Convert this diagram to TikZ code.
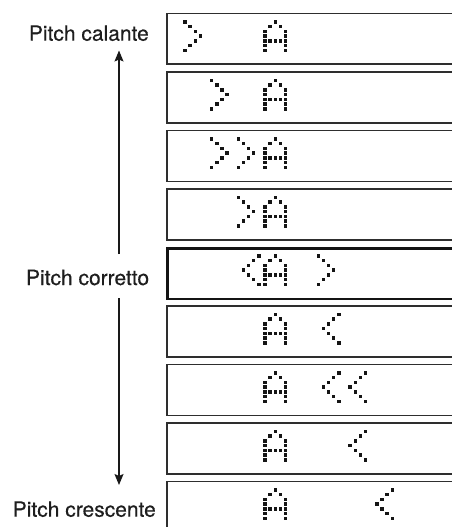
\documentclass[tikz,border=0pt]{standalone}
\usepackage{fontspec}
\setmainfont{TeX Gyre Heros}
\newfontface\labfont{TeX Gyre Heros}[FakeBold=0.35]
\usetikzlibrary{arrows.meta}
\definecolor{dotc}{HTML}{151515}
\definecolor{txtc}{HTML}{1E1E1E}
\definecolor{boxc}{HTML}{2E2E2E}
\tikzset{
  lcd/.style={draw=boxc, line width=1.7pt, rectangle, anchor=north west,
    minimum width=330pt, minimum height=50.8pt, inner sep=0pt},
  lcdbold/.style={lcd, draw=black!92, line width=2.8pt},
  lab/.style={font=\labfont\fontsize{21}{25}\selectfont, text=txtc, inner sep=0pt, anchor=base east},
  pitcharrow/.style={line width=1.3pt, draw=black!90, -{Stealth[length=11pt,width=9pt,inset=2pt]}},
  pics/chA/.style={code={
    \foreach \c/\r in {3/1,2/2,4/2,1/3,5/3,1/4,5/4,1/5,2/5,3/5,4/5,5/5,1/6,5/6,1/7,5/7}
      \fill[dotc] ({(\c-1)*5.15-1.7},{(\r-1)*4.75-1.7}) rectangle ++(3.4,3.4);}},
  pics/chGt/.style={code={
    \foreach \c/\r in {1/1,2/2,3/3,4/4,3/5,2/6,1/7}
      \fill[dotc] ({(\c-1)*5.15-1.7},{(\r-1)*4.75-1.7}) rectangle ++(3.4,3.4);}},
  pics/chLt/.style={code={
    \foreach \c/\r in {5/1,4/2,3/3,2/4,3/5,4/6,5/7}
      \fill[dotc] ({(\c-1)*5.15-1.7},{(\r-1)*4.75-1.7}) rectangle ++(3.4,3.4);}},
}
\begin{document}
\begin{tikzpicture}[x=1pt,y=-1pt]
\useasboundingbox (0,0) rectangle (452,527);
\clip (0,0) rectangle (452,527);
% boxes
\node[lcd] (b1) at (166,12.7) {};
\node[lcd] (b2) at (166,71.2) {};
\node[lcd] (b3) at (166,129.7) {};
\node[lcd] (b4) at (166,188.2) {};
\node[lcdbold] (b5) at (166,246.7) {};
\node[lcd] (b6) at (166,305.2) {};
\node[lcd] (b7) at (166,363.7) {};
\node[lcd] (b8) at (166,422.2) {};
\node[lcd] (b9) at (166,480.7) {};
% box 1
\pic at (185,21.9) {chGt};
\pic at (265,21.9) {chA};
% box 2
\pic at (211.67,80.4) {chGt};
\pic at (265,80.4) {chA};
% box 3
\pic at (211.67,138.9) {chGt};
\pic at (238.33,138.9) {chGt};
\pic at (265,138.9) {chA};
% box 4
\pic at (238.33,197.4) {chGt};
\pic at (265,197.4) {chA};
% box 5
\pic at (238.33,255.9) {chLt};
\pic at (265,255.9) {chA};
\pic at (318.33,255.9) {chGt};
% box 6
\pic at (265,314.4) {chA};
\pic at (318.33,314.4) {chLt};
% box 7
\pic at (265,372.9) {chA};
\pic at (318.33,372.9) {chLt};
\pic at (345,372.9) {chLt};
% box 8
\pic at (265,431.4) {chA};
\pic at (345,431.4) {chLt};
% box 9
\pic at (265,489.9) {chA};
\pic at (371.67,489.9) {chLt};
% labels
\node[lab] (calante) at (149,40.7) {Pitch calante};
\node[lab] (corretto) at (149.3,285) {Pitch corretto};
\node[lab] (crescente) at (156,516.7) {Pitch crescente};
% arrows
\coordinate (upstart) at (119,254);
\coordinate (uptip) at (119,50.5);
\coordinate (downstart) at (119,298);
\coordinate (downtip) at (119,485);
\draw[pitcharrow] (upstart) -- (uptip);
\draw[pitcharrow] (downstart) -- (downtip);
\end{tikzpicture}
\end{document}
